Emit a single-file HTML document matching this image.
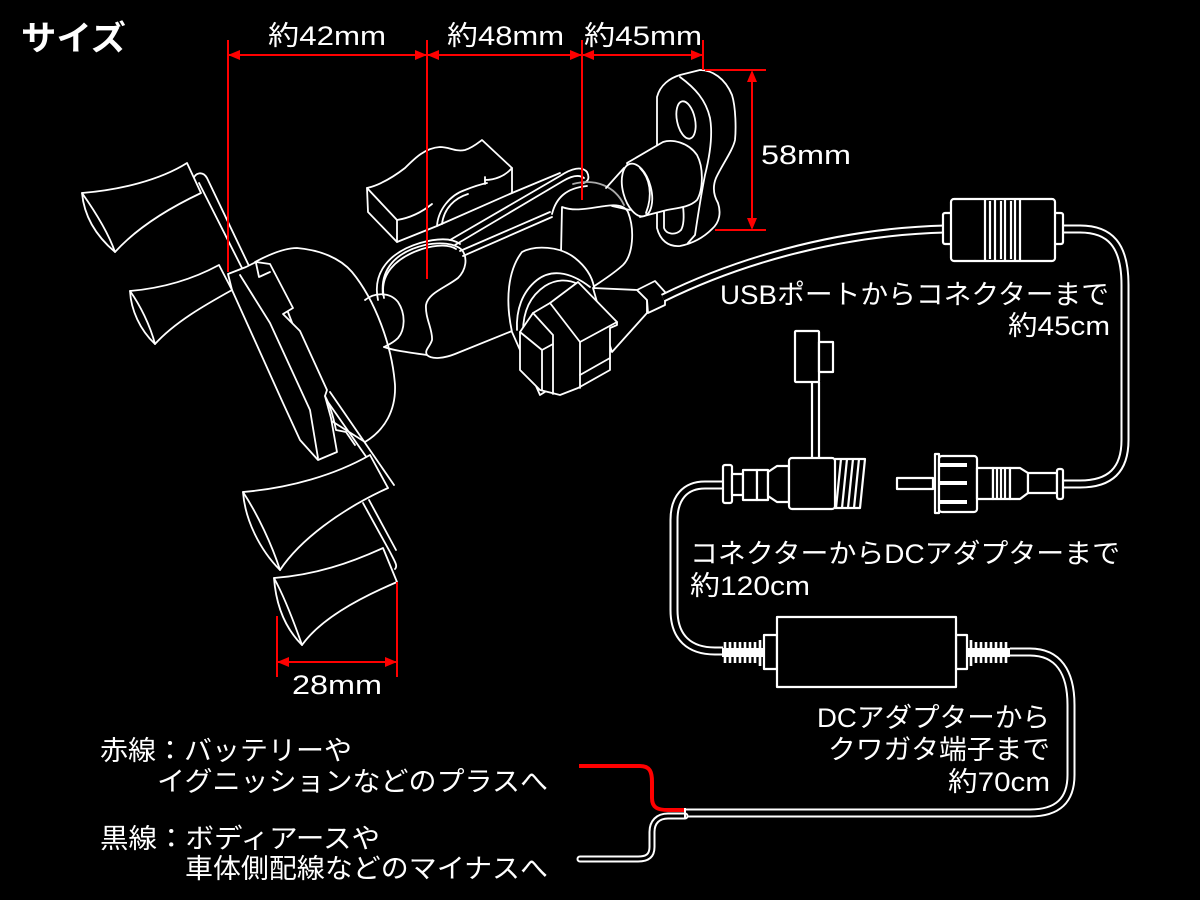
<!DOCTYPE html>
<html><head><meta charset="utf-8"><style>
html,body{margin:0;padding:0;background:#000;width:1200px;height:900px;overflow:hidden}
svg{display:block}
text{font-family:"Liberation Sans","Noto Sans CJK JP",sans-serif;fill:#fff}
</style></head><body>
<svg width="1200" height="900" viewBox="0 0 1200 900" xmlns="http://www.w3.org/2000/svg">
<rect width="1200" height="900" fill="#000"/>

<!-- ===== Mount line art ===== -->
<g fill="#000" stroke="#fff" stroke-width="1.8" stroke-linejoin="round" stroke-linecap="round">
  <!-- cradle back -->
  <path d="M255,262 C270,254 285,248 297,248 C320,250 340,258 352,272 C375,300 392,345 395,385 C396,410 385,430 365,442 L330,420 L270,266 Z"/>
  <!-- neck -->
  <path fill="none" d="M365,300 C375,292 390,292 398,302 C406,314 405,330 398,338 C393,343 388,345 384,347"/>
  <!-- ring above left ball -->
  <path fill="none" d="M378,300 C372,272 390,252 420,243 C438,238 452,238 460,244"/>
  <path fill="none" d="M384,298 C379,275 395,258 422,249 C438,244 450,245 456,249"/>
  <!-- left ball and lower socket arm -->
  <path fill="none" d="M383,295 C380,270 395,252 425,245 C440,242 455,243 462,250 C468,258 466,270 458,278 C445,288 428,293 426,305 C425,318 433,330 432,340 C430,347 424,350 427,355 C432,360 445,358 455,354 L512,331"/>
  <path fill="none" d="M384,347 C392,350 405,352 427,355"/>
  <!-- band (arm) -->
  <path fill="none" d="M450,240 L560,176 C572,168 582,166 587,172 C590,178 588,182 583,183"/>
  <path fill="none" d="M455,245 L563,181 C573,175 580,175 584,178"/>
  <path fill="none" d="M460,251 L550,212"/>
  <path fill="none" d="M463,256 L552,217"/>
  <path fill="none" d="M552,214 C556,198 566,188 587,186"/>
  <!-- top-left block -->
  <path d="M367,188 C380,185 392,178 405,168 C415,158 425,148 440,147 C450,147 455,152 465,150 C472,148 478,143 482,140 L512,168 L512,193 L437,226 L397,242 L368,212 Z"/>
  <path fill="none" d="M367,188 L397,220 L397,242"/>
  <path fill="none" d="M397,220 C410,218 422,212 432,204"/>
  <path fill="none" d="M485,180 C495,180 505,176 512,168"/>
  <path fill="none" d="M485,177 L485,184"/>
  <path fill="none" d="M512,193 L560,173"/>
  <path fill="none" d="M437,226 C438,210 450,195 465,190 C475,186 482,184 487,183"/>
  <path fill="none" d="M442,224 C444,208 455,198 468,194"/>
  <!-- right ball -->
  <path fill="none" stroke="#aaa" d="M573,184 C595,178 615,186 624,205"/>
  <path d="M562,207 C575,212 590,208 605,206 C617,204 625,206 628,212 C635,230 633,255 623,265 C612,275 600,282 593,287 L560,300 Z" />
  <!-- plate bracket -->
  <path d="M657,140 L657,97 C660,85 670,78 680,75 L700,70 C712,70 725,78 732,95 C736,108 736,130 735,140 C733,150 722,165 716,178 C712,188 714,196 718,203 C721,212 720,222 712,229 C705,236 695,243 680,246 C668,247 660,240 657,228 L657,140 Z"/>
  <path fill="none" d="M680,77 C695,88 706,100 710,118 C713,135 710,155 705,175 C701,195 698,215 695,235 L688,243"/>
  <ellipse cx="686" cy="120" rx="9" ry="19" transform="rotate(-12 686 120)"/>
  <path fill="none" d="M664,210 L664,228 C666,234 675,236 681,230 C684,225 684,215 683,206"/>
  <!-- cylinder -->
  <path fill="none" d="M606,188 L624,168"/>
  <path fill="none" d="M612,206 L630,210"/>
  <path d="M627,163 L663,142 C672,139 688,142 697,155 C704,168 703,190 697,200 C690,207 678,208 667,210 L640,217 Z"/>
  <ellipse cx="637" cy="190" rx="14" ry="27" transform="rotate(-15 637 190)"/>
  <path fill="none" d="M640,168 C650,178 653,195 646,213"/>
  <!-- USB hood -->
  <path d="M512,332 C505,300 508,270 522,252 C535,245 560,246 575,258 C585,266 592,276 594,287 L612,350 L540,395 Z"/>
  <path fill="none" d="M517,330 C516,310 522,292 537,280 C550,270 568,270 590,287"/>
  <path fill="none" d="M523,332 C523,312 530,296 545,286 C556,279 568,279 578,284"/>
  <!-- USB cable housing -->
  <path d="M593,288 L637,290 L647,300 L647,313 L612,352 L605,330 Z"/>
  <path d="M637,290 L655,281 L665,292 L665,305 L648,313 L647,300 Z"/>
  <!-- USB plug box -->
  <path d="M520,332 L533,313 L550,303 L578,282 L617,322 L617,325 L610,328 L610,370 L578,388 L560,395 L540,390 L520,370 Z"/>
  <path fill="none" d="M520,332 L542,350 L542,390"/>
  <path fill="none" d="M533,313 L553,335 L553,394"/>
  <path fill="none" d="M542,350 L553,344"/>
  <path fill="none" d="M550,303 L580,342 L580,388"/>
  <path fill="none" d="M580,342 L617,322"/>
  <path fill="none" d="M580,375 L610,358"/>
  <!-- thin rods -->
  <path fill="none" d="M193,180 C195,172 203,171 207,178 L250,268"/>
  <path fill="none" d="M199,183 L244,272"/>
  <path fill="none" d="M323,395 L388,488"/>
  <path fill="none" d="M330,392 L394,485"/>
  <path fill="none" d="M363,503 L390,552 C395,562 398,566 395,569"/>
  <path fill="none" d="M369,500 L396,550"/>
  <!-- jaw -->
  <path d="M228,274 L246,267 L256,262 L270,264 L293,308 L283,314 L300,331 L327,390 L325,396 L331,418 L337,452 L318,460 L300,440 L283,403 L232,290 Z"/>
  <path fill="none" d="M240,275 L270,323 L310,410 L318,458"/>
  <path fill="none" d="M256,263 L259,277 L270,272"/>
  <path fill="none" d="M325,396 C330,405 334,420 336,430 L346,432 L355,445"/>
  <!-- grips -->
  <path d="M82,193 C120,190 160,180 187,163 L201,193 C165,210 135,230 115,252 C95,235 84,215 82,193 Z"/>
  <path fill="none" d="M82,193 C94,210 108,232 115,252"/>
  <path d="M130,291 C165,288 195,278 219,265 L232,290 C205,305 175,322 155,344 C140,330 131,310 130,291 Z"/>
  <path fill="none" d="M130,291 C140,305 150,325 155,344"/>
  <path d="M243,492 C290,488 335,475 370,455 L388,488 C340,510 300,540 280,570 C260,550 245,520 243,492 Z"/>
  <path fill="none" d="M243,492 C258,515 272,545 280,570"/>
  <path d="M274,578 C315,575 350,563 383,548 L397,582 C355,600 320,620 302,645 C285,628 276,605 274,578 Z"/>
  <path fill="none" d="M274,578 C285,598 295,625 302,645"/>
</g>

<!-- ===== Cables (tubes) ===== -->
<g fill="none" stroke-linecap="butt" stroke-linejoin="round">
  <path d="M663,298 C730,265 830,232 945,229" stroke="#fff" stroke-width="9"/>
  <path d="M663,298 C730,265 830,232 945,229" stroke="#000" stroke-width="5"/>
  <path d="M1063,229 L1080,229 C1110,229 1125,245 1125,285 L1125,440 C1125,470 1110,484 1080,484 L1063,484" stroke="#fff" stroke-width="9"/>
  <path d="M1063,229 L1080,229 C1110,229 1125,245 1125,285 L1125,440 C1125,470 1110,484 1080,484 L1063,484" stroke="#000" stroke-width="5"/>
  <path d="M723,485 L705,485 C685,485 674,498 674,520 L674,610 C674,638 690,651 715,651 L723,651" stroke="#fff" stroke-width="9"/>
  <path d="M723,485 L705,485 C685,485 674,498 674,520 L674,610 C674,638 690,651 715,651 L723,651" stroke="#000" stroke-width="5"/>
  <path d="M1010,652 L1030,652 C1058,652 1071,672 1071,705 L1071,775 C1071,800 1058,813 1030,813 L685,813" stroke="#fff" stroke-width="9"/>
  <path d="M1010,652 L1030,652 C1058,652 1071,672 1071,705 L1071,775 C1071,800 1058,813 1030,813 L685,813" stroke="#000" stroke-width="5"/>
  <!-- black wire -->
  <path d="M685,816 L668,816 C658,816 652,822 652,832 L652,847 C652,856 647,859 638,859 L580,859" stroke="#fff" stroke-width="7" stroke-linecap="round"/>
  <path d="M685,816 L668,816 C658,816 652,822 652,832 L652,847 C652,856 647,859 638,859 L580,859" stroke="#000" stroke-width="3" stroke-linecap="round"/>
  <!-- red wire -->
  <path d="M579,766 L640,766 C650,766 652,772 652,782 L652,798 C652,808 658,810 668,810 L685,810" stroke="#f00" stroke-width="4"/>
  <line x1="685" y1="808" x2="685" y2="819" stroke="#fff" stroke-width="2"/>
</g>

<!-- ===== Connectors ===== -->
<g fill="#000" stroke="#fff" stroke-width="2.2" stroke-linejoin="round">
  <!-- top connector -->
  <rect x="943" y="213" width="9" height="31" rx="2"/>
  <rect x="1054" y="213" width="9" height="31" rx="2"/>
  <rect x="951" y="199" width="104" height="62" rx="3"/>
  <path fill="none" d="M985,199 V261 M990,201 V259 M995,199 V261 M1001,201 V259 M1005,199 V261 M1011,201 V259 M1015,199 V261 M1020,199 V261"/>

  <!-- side box + stem -->
  <rect x="795" y="331" width="24" height="51" rx="1"/>
  <rect x="819" y="342" width="14" height="30"/>
  <path fill="none" d="M812,382 V458 M819,382 V458"/>

  <!-- bottom-left connector -->
  <rect x="723" y="465" width="9" height="38" rx="2"/>
  <rect x="732" y="474" width="11" height="21"/>
  <rect x="743" y="470" width="14" height="30"/>
  <rect x="757" y="470" width="11" height="30"/>
  <path d="M768,472 L777,466 L789,466 L789,502 L777,502 L768,496 Z"/>
  <rect x="789" y="458" width="46" height="51" rx="3"/>
  <path fill="none" d="M835,459 H865 L860,508 H835 M841,459 L836,508 M847,459 L842,508 M853,459 L848,508 M859,459 L854,508"/>

  <!-- plug -->
  <rect x="897" y="478" width="36" height="11"/>
  <rect x="935" y="454" width="4" height="59"/>
  <rect x="939" y="456" width="38" height="56" rx="3"/>
  <rect x="977" y="468" width="16" height="31"/>
  <rect x="993" y="468" width="17" height="31"/>
  <path fill="none" d="M997,468 V499 M1001,468 V499 M1005,468 V499"/>
  <path d="M1010,468 L1020,468 L1028,473 L1028,493 L1020,499 L1010,499 Z"/>
  <rect x="1028" y="473" width="29" height="20"/>
  <rect x="1057" y="469" width="6" height="30" rx="2"/>

  <!-- DC adapter -->
  <rect x="764" y="635" width="13" height="34"/>
  <rect x="956" y="635" width="11" height="34"/>
  <rect x="777" y="617" width="179" height="70"/>
</g>
<g fill="#fff">
  <rect x="939" y="463" width="28" height="4"/>
  <rect x="939" y="481" width="28" height="4"/>
  <rect x="939" y="500" width="28" height="4"/>
  <!-- strain reliefs -->
  <rect x="722" y="648" width="42" height="9"/>
  <rect x="967" y="648" width="43" height="9"/>
</g>
<g stroke="#fff" stroke-width="2.6">
  <path d="M725,642 V663 M730,642 V663 M735,642 V663 M740,642 V663 M745,642 V663 M750,642 V663 M755,642 V663 M760,640 V666"/>
  <path d="M971,640 V666 M976,642 V663 M981,642 V663 M986,642 V663 M991,642 V663 M996,642 V663 M1001,642 V663 M1006,642 V663"/>
</g>

<!-- ===== Red dimension lines ===== -->
<g stroke="#f00" stroke-width="2" fill="none">
  <line x1="228" y1="55" x2="703" y2="55"/>
  <line x1="228" y1="40" x2="228" y2="272"/>
  <line x1="427" y1="40" x2="427" y2="279"/>
  <line x1="582" y1="40" x2="582" y2="200"/>
  <line x1="703" y1="40" x2="703" y2="70"/>
  <line x1="705" y1="70" x2="766" y2="70"/>
  <line x1="715" y1="230" x2="766" y2="230"/>
  <line x1="752" y1="72" x2="752" y2="228"/>
  <line x1="277" y1="616" x2="277" y2="677"/>
  <line x1="397" y1="582" x2="397" y2="677"/>
  <line x1="277" y1="662" x2="397" y2="662"/>
</g>
<g fill="#f00">
  <polygon points="228,55 240,50 240,60"/>
  <polygon points="427,55 415,50 415,60"/>
  <polygon points="427,55 439,50 439,60"/>
  <polygon points="582,55 570,50 570,60"/>
  <polygon points="582,55 594,50 594,60"/>
  <polygon points="703,55 691,50 691,60"/>
  <polygon points="752,70 747,82 757,82"/>
  <polygon points="752,230 747,218 757,218"/>
  <polygon points="277,662 289,657 289,667"/>
  <polygon points="397,662 385,657 385,667"/>
</g>

<!-- ===== Text ===== -->
<text x="21" y="50" font-size="34" font-weight="bold" textLength="105" lengthAdjust="spacingAndGlyphs">サイズ</text>
<text x="268" y="45" font-size="27" textLength="118" lengthAdjust="spacingAndGlyphs">約42mm</text>
<text x="447" y="45" font-size="27" textLength="117" lengthAdjust="spacingAndGlyphs">約48mm</text>
<text x="584" y="45" font-size="27" textLength="118" lengthAdjust="spacingAndGlyphs">約45mm</text>
<text x="761" y="164" font-size="27" textLength="90" lengthAdjust="spacingAndGlyphs">58mm</text>
<text x="292" y="694" font-size="27" textLength="90" lengthAdjust="spacingAndGlyphs">28mm</text>
<text x="720" y="304" font-size="27" textLength="389" lengthAdjust="spacingAndGlyphs">USBポートからコネクターまで</text>
<text x="1008" y="335" font-size="27" textLength="102" lengthAdjust="spacingAndGlyphs">約45cm</text>
<text x="690" y="563" font-size="27" textLength="430" lengthAdjust="spacingAndGlyphs">コネクターからDCアダプターまで</text>
<text x="690" y="595" font-size="27" textLength="120" lengthAdjust="spacingAndGlyphs">約120cm</text>
<text x="817" y="727" font-size="27" textLength="233" lengthAdjust="spacingAndGlyphs">DCアダプターから</text>
<text x="828" y="759" font-size="27" textLength="222" lengthAdjust="spacingAndGlyphs">クワガタ端子まで</text>
<text x="948" y="791" font-size="27" textLength="102" lengthAdjust="spacingAndGlyphs">約70cm</text>
<text x="100" y="760" font-size="27" textLength="252" lengthAdjust="spacingAndGlyphs">赤線：バッテリーや</text>
<text x="157" y="791" font-size="27" textLength="391" lengthAdjust="spacingAndGlyphs">イグニッションなどのプラスへ</text>
<text x="100" y="848" font-size="27" textLength="280" lengthAdjust="spacingAndGlyphs">黒線：ボディアースや</text>
<text x="185" y="878" font-size="27" textLength="363" lengthAdjust="spacingAndGlyphs">車体側配線などのマイナスへ</text>
</svg>
</body></html>
